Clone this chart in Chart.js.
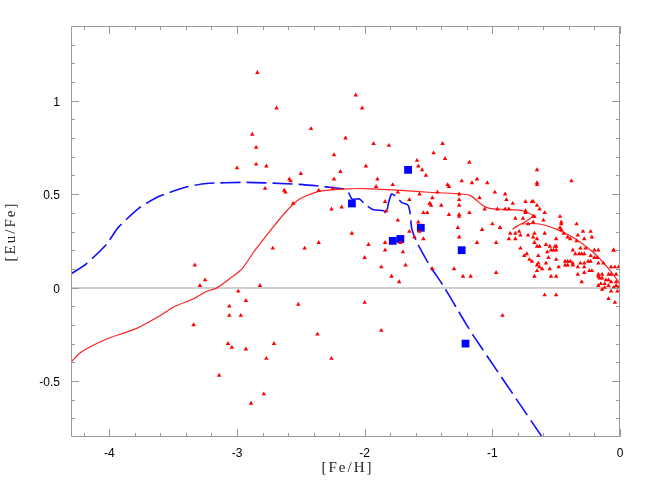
<!DOCTYPE html>
<html>
<head>
<meta charset="utf-8">
<script src="https://cdn.jsdelivr.net/npm/chart.js@4"></script>
<style>
  html, body { margin: 0; padding: 0; background: #fff; }
  #wrap { width: 654px; height: 491px; position: relative; }
</style>
</head>
<body>
<div id="wrap"><canvas id="grafico"></canvas></div>
<script>
// stars: [Fe/H] and [Eu/Fe]
const starFeH = [
  -2.84,-2.07,-2.69,-2.42,-2.88,-2.15,-2.85,-2.24,-2.85,-2.77,-3.00,-2.19,-2.50,-2.59,-2.58,-2.24,-2.78,-2.63,-2.62,-2.36,-2.25,-2.56,-2.26,-2.18,-2.10,
  -2.72,-2.47,-2.36,-3.33,-3.25,-3.29,-2.82,-2.99,-2.93,-2.52,-3.06,-3.06,-2.97,-3.34,-2.37,-3.07,-3.04,-2.93,-2.71,-2.77,-2.26,-3.14,-2.79,-2.89,
  -2.02,-1.93,-1.81,-1.39,-1.46,-1.37,-1.59,-1.18,-1.99,-1.58,-1.55,-1.52,-1.90,-1.12,-1.24,-1.16,-1.35,-1.34,-1.78,-1.91,-1.74,-1.57,-1.43,-1.26,-1.10,-1.47,-1.65,-1.26,-1.84,-1.49,
  -0.65,-1.04,-0.65,-0.65,-0.38,-0.98,-0.90,-0.89,-0.84,-0.74,-0.69,-0.68,-0.65,-0.63,-0.59,-1.06,-0.96,-0.90,-0.87,-0.74,-0.74,-0.68,-0.67,-0.82,-0.76,-0.60,-0.47,-0.46,-0.46,-0.34,-1.00,-0.94,-0.72,-0.68,-0.47,
  -1.49,-1.48,-1.40,-1.26,-1.83,-1.54,-1.51,-1.34,-1.26,-1.26,-1.18,-1.74,-1.58,-1.27,-1.08,-1.65,-1.57,-1.61,-1.26,-1.54,-1.84,-1.72,-1.12,-1.97,-1.84,-1.70,-2.00,-1.68,-1.87,-1.47,-1.30,-1.79,-1.23,-1.17,-1.73,-2.00,-1.87,
  -0.92,-0.59,-0.50,-0.09,-0.04,-0.05,
  -0.94,-0.46,-0.44,-0.86,-0.82,-0.82,-0.87,-0.72,-0.67,-0.68,-0.65,-0.59,-0.50,-0.41,-0.39,-0.33,-0.29,-0.23,-0.22,-0.28,-0.34,-0.97,-0.67,-0.65,-0.63,-0.58,-0.55,-0.51,-0.50,-0.78,
  -0.54,-0.52,-0.50,-0.57,-0.37,-0.31,-0.27,-0.20,-0.17,-0.05,-0.73,-0.75,-0.64,-0.56,-0.50,-0.35,-0.32,-0.30,-0.28,-0.23,-0.20,-0.18,-0.71,-0.69,-0.64,-0.65,-0.58,
  -0.43,-0.41,-0.39,-0.37,-0.43,-0.41,-0.37,-0.31,-0.28,-0.25,-0.23,-0.17,-0.13,-0.63,-0.61,-0.55,-0.48,-0.33,-0.28,-0.24,-0.22,-0.07,-0.04,-0.01,-0.97,-0.65,-0.67,
  -0.54,-0.50,-0.33,-0.28,-0.17,-0.14,-0.17,-0.09,-0.07,-0.03,-0.30,-0.16,-0.14,-0.11,-0.09,-0.07,-0.03,-0.17,-0.15,-0.12,-0.09,-0.05,-0.03,-0.01,-0.14,-0.12,-0.07,-0.02,-0.79,-0.78
];
const starEuFe = [
  1.15,1.03,0.96,0.85,0.82,0.80,0.75,0.71,0.66,0.65,0.64,0.62,0.61,0.58,0.57,0.58,0.53,0.52,0.51,0.52,0.53,0.45,0.42,0.43,0.29,
  0.21,0.21,0.24,0.12,0.04,0.01,0.01,-0.02,-0.07,-0.09,-0.10,-0.15,-0.15,-0.20,-0.25,-0.30,-0.32,-0.33,-0.30,-0.38,-0.38,-0.47,-0.57,-0.62,
  0.96,0.77,0.76,0.77,0.72,0.69,0.68,0.67,0.65,0.65,0.63,0.60,0.58,0.58,0.57,0.56,0.55,0.54,0.55,0.54,0.51,0.50,0.51,0.50,0.48,0.48,0.47,0.47,0.46,0.45,
  0.63,0.56,0.56,0.55,0.57,0.51,0.50,0.47,0.45,0.46,0.46,0.46,0.44,0.42,0.40,0.42,0.42,0.42,0.42,0.41,0.40,0.38,0.38,0.37,0.37,0.36,0.38,0.35,0.34,0.34,0.34,0.32,0.34,0.35,0.32,
  0.45,0.44,0.44,0.44,0.41,0.40,0.40,0.39,0.39,0.38,0.40,0.36,0.35,0.32,0.31,0.30,0.30,0.27,0.27,0.26,0.24,0.24,0.24,0.23,0.20,0.19,0.16,0.12,0.11,0.10,0.10,0.06,0.06,0.06,0.03,-0.08,-0.23,
  -0.15,-0.04,-0.04,-0.06,-0.08,0.20,
  0.32,0.31,0.29,0.29,0.29,0.26,0.26,0.28,0.29,0.27,0.26,0.29,0.26,0.27,0.26,0.28,0.30,0.30,0.27,0.26,0.25,0.24,0.24,0.22,0.22,0.23,0.22,0.22,0.22,0.21,
  0.20,0.20,0.20,0.19,0.20,0.21,0.21,0.20,0.20,0.20,0.18,0.17,0.17,0.16,0.15,0.18,0.18,0.18,0.18,0.17,0.16,0.16,0.15,0.14,0.13,0.12,0.13,
  0.14,0.14,0.14,0.13,0.12,0.12,0.12,0.13,0.13,0.14,0.14,0.13,0.13,0.11,0.10,0.10,0.11,0.11,0.11,0.09,0.09,0.11,0.11,0.11,0.08,0.09,0.06,
  0.06,0.06,0.07,0.08,0.07,0.07,0.06,0.07,0.07,0.07,0.03,0.05,0.05,0.04,0.04,0.03,0.03,0.01,0.02,0.02,0.01,0.00,0.01,0.00,-0.01,0.00,-0.02,-0.02,0.30,0.28
];

// blue squares
const sqFeH = [-2.10, -1.66, -1.78, -1.72, -1.56, -1.24, -1.21];
const sqEuFe = [0.45, 0.63, 0.25, 0.26, 0.32, 0.20, -0.30];

// red model curve (path order, it folds back near -0.8)
const redFeH = [-4.30,-4.23,-4.13,-4.00,-3.79,-3.60,-3.50,-3.34,-3.24,-3.16,-3.06,-2.96,-2.87,-2.79,-2.73,-2.61,-2.51,-2.36,-2.17,-2.00,-1.75,-1.50,-1.18,-1.08,-1.02,-0.90,-0.76,-0.68,-0.73,-0.80,-0.84,-0.81,-0.77,-0.63,-0.50,-0.37,-0.21,-0.11,-0.01,0.00];
const redEuFe = [-0.40,-0.35,-0.31,-0.27,-0.22,-0.15,-0.105,-0.06,-0.021,-0.003,0.046,0.10,0.189,0.26,0.313,0.411,0.474,0.515,0.527,0.53,0.522,0.51,0.495,0.442,0.424,0.418,0.411,0.384,0.358,0.331,0.313,0.328,0.34,0.34,0.313,0.269,0.189,0.117,0.029,0.00];

// blue dashed model curve
const blueFeH = [-4.30,-4.18,-4.02,-3.93,-3.76,-3.60,-3.39,-3.24,-2.95,-2.72,-2.51,-2.30,-2.14,-2.10,-2.04,-2.00,-1.93,-1.85,-1.83,-1.815,-1.79,-1.76,-1.71,-1.66,-1.645,-1.63,-1.59,-1.49,-1.385,-1.23,-1.15,-0.61];
const blueEuFe = [0.073,0.127,0.233,0.322,0.429,0.491,0.539,0.557,0.563,0.559,0.552,0.539,0.523,0.474,0.474,0.447,0.416,0.411,0.393,0.447,0.50,0.491,0.456,0.441,0.402,0.313,0.242,0.117,0.011,-0.167,-0.256,-0.80];

const xTicks = [-4, -3, -2, -1, 0];
const xTickLabels = ['-4', '-3', '-2', '-1', '0'];
const yTicks = [-0.5, 0, 0.5, 1];
const yTickLabels = ['-0.5', '0', '0.5', '1'];
const xTitle = '[Fe/H]';
const yTitle = '[Eu/Fe]';

function pares(xs, ys) {
    return xs.map((v, i) => ({x: v, y: ys[i]}));
}

// inward ticks on all four sides, frame and the axis titles
const molduraPlugin = {
    id: 'moldura',
    afterDraw(chart) {
        const {ctx, chartArea: a, scales: {x, y}} = chart;
        ctx.save();
        ctx.strokeStyle = '#9a9a9a';
        ctx.lineWidth = 1;
        ctx.beginPath();
        ctx.rect(a.left + 0.5, a.top + 0.5, a.right - a.left - 1, a.bottom - a.top - 1);
        ctx.stroke();

        ctx.beginPath();
        for (let k = -21; k <= 0; k++) {
            const v = k * 0.2;
            const major = k % 5 === 0;
            const len = major ? 8 : 4;
            const px = Math.round(x.getPixelForValue(v)) + 0.5;
            ctx.moveTo(px, a.bottom); ctx.lineTo(px, a.bottom - len);
            ctx.moveTo(px, a.top); ctx.lineTo(px, a.top + len);
        }
        for (let k = -7; k <= 13; k++) {
            const v = k * 0.1;
            const major = k % 5 === 0;
            const len = major ? 8 : 4;
            const py = Math.round(y.getPixelForValue(v)) + 0.5;
            ctx.moveTo(a.left, py); ctx.lineTo(a.left + len, py);
            ctx.moveTo(a.right, py); ctx.lineTo(a.right - len, py);
        }
        ctx.stroke();

        ctx.fillStyle = '#222';
        ctx.font = '15px "Liberation Serif"';
        ctx.letterSpacing = '2px';
        ctx.textAlign = 'center';
        ctx.textBaseline = 'middle';
        ctx.fillText(xTitle, (a.left + a.right) / 2 + 2, 468);
        ctx.translate(11, (a.top + a.bottom) / 2);
        ctx.rotate(-Math.PI / 2);
        ctx.fillText(yTitle, 0, 0);
        ctx.restore();
    }
};

const ctx = document.getElementById('grafico').getContext('2d');
new Chart(ctx, {
    type: 'scatter',
    data: {
        datasets: [
            {
                data: pares(starFeH, starEuFe),
                pointStyle: 'triangle',
                pointRadius: 2.6,
                backgroundColor: '#ff0000',
                borderWidth: 0
            },
            {
                data: pares(redFeH, redEuFe),
                showLine: true,
                borderColor: '#ff2020',
                borderWidth: 1.2,
                pointRadius: 0,
                tension: 0.2
            },
            {
                data: pares(blueFeH, blueEuFe),
                showLine: true,
                borderColor: '#1010ff',
                borderWidth: 1.6,
                borderDash: [20, 6],
                pointRadius: 0,
                tension: 0.2
            },
            {
                data: pares(sqFeH, sqEuFe),
                pointStyle: 'rect',
                pointRadius: 5.5,
                backgroundColor: '#0000ff',
                borderWidth: 0
            }
        ]
    },
    options: {
        responsive: true,
        maintainAspectRatio: false,
        animation: false,
        layout: { padding: { top: 26, right: 34, left: 0, bottom: 0 } },
        plugins: { legend: { display: false }, tooltip: { enabled: false } },
        scales: {
            x: {
                type: 'linear',
                min: -4.3,
                max: 0,
                afterBuildTicks: s => { s.ticks = xTicks.map(v => ({value: v})); },
                afterFit: s => { s.height = 54; },
                ticks: {
                    padding: 9,
                    color: '#000',
                    font: { family: '"Liberation Sans"', size: 12 },
                    callback: v => xTickLabels[xTicks.indexOf(v)]
                },
                grid: { display: false, drawTicks: false },
                border: { display: false }
            },
            y: {
                type: 'linear',
                min: -0.8,
                max: 1.4,
                afterBuildTicks: s => { s.ticks = yTicks.map(v => ({value: v})); },
                afterFit: s => { s.width = 71; },
                ticks: {
                    padding: 11,
                    labelOffset: 2,
                    color: '#000',
                    font: { family: '"Liberation Sans"', size: 12 },
                    callback: v => yTickLabels[yTicks.indexOf(v)]
                },
                grid: {
                    drawTicks: false,
                    lineWidth: 2,
                    color: c => (c.tick && c.tick.value === 0) ? '#cfcfcf' : 'rgba(0,0,0,0)'
                },
                border: { display: false }
            }
        }
    },
    plugins: [molduraPlugin]
});
</script>
</body>
</html>
